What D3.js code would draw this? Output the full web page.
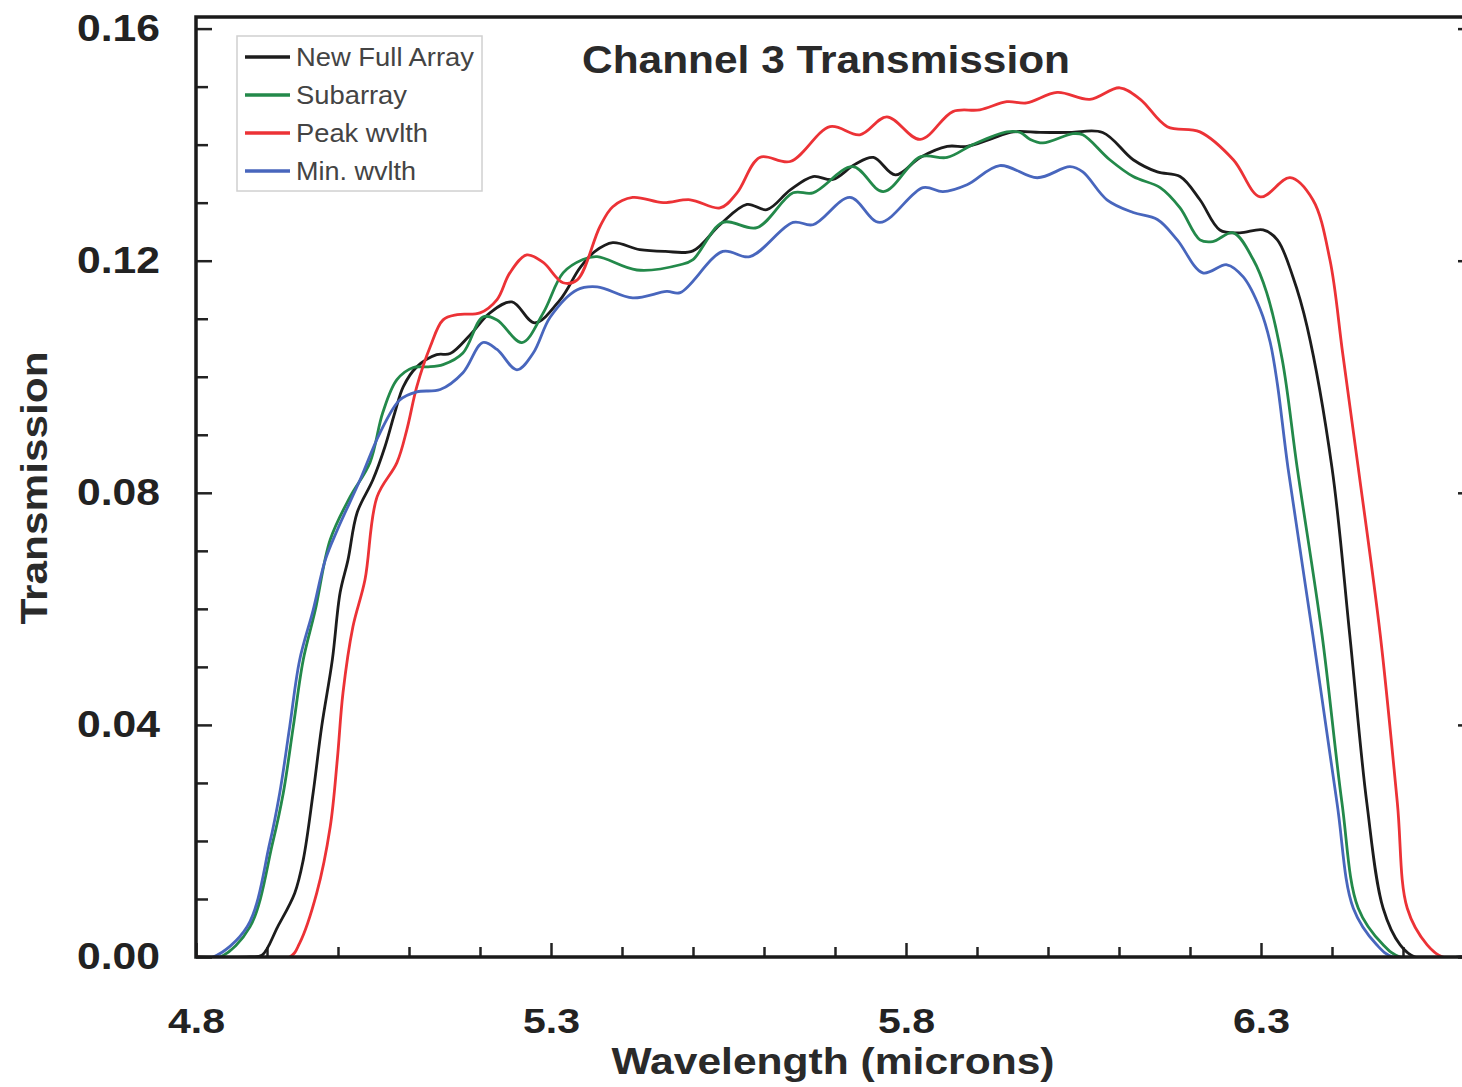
<!DOCTYPE html>
<html>
<head>
<meta charset="utf-8">
<script src="https://cdn.jsdelivr.net/npm/d3@7"></script>
<style>
body { margin: 0; background: #fff; }
text { font-family: "Liberation Sans", Arial, Helvetica, sans-serif; }
</style>
</head>
<body>
<div id="chart-area"></div>
<script>

// SVG Size
var width = 1462,
	height = 1087;

// Series names (legend order) and line colours
var seriesNames = ["New Full Array", "Subarray", "Peak wvlth", "Min. wvlth"];
var seriesColors = ["#1c1c1c", "#23894a", "#ec3236", "#4866bd"];

// [wavelength (microns), transmission]
var fullArray = [
	[4.800,0],[4.876,0],[4.893,0.0003],[4.915,0.0052],[4.939,0.0110],[4.951,0.0167],[4.965,0.0283],
	[4.977,0.0397],[4.992,0.0512],[5.003,0.0628],[5.014,0.0684],[5.027,0.0766],[5.049,0.0822],
	[5.066,0.0879],[5.080,0.0938],[5.092,0.0983],[5.111,0.1017],[5.139,0.1038],[5.158,0.1040],
	[5.186,0.1072],[5.214,0.1110],[5.245,0.1129],[5.277,0.1093],[5.313,0.1133],[5.341,0.1188],
	[5.362,0.1216],[5.387,0.1231],[5.425,0.1219],[5.461,0.1216],[5.500,0.1217],[5.538,0.1262],
	[5.576,0.1297],[5.604,0.1288],[5.637,0.1322],[5.669,0.1345],[5.697,0.1340],[5.728,0.1366],
	[5.754,0.1378],[5.785,0.1348],[5.820,0.1378],[5.858,0.1397],[5.886,0.1397],[5.918,0.1409],
	[5.951,0.1422],[5.989,0.1421],[6.031,0.1421],[6.077,0.1421],[6.120,0.1374],[6.154,0.1353],
	[6.186,0.1345],[6.214,0.1305],[6.242,0.1253],[6.270,0.1248],[6.303,0.1253],[6.323,0.1236],
	[6.345,0.1172],[6.365,0.1086],[6.400,0.0843],[6.425,0.0555],[6.449,0.0266],[6.472,0.0084],
	[6.496,0.0021],[6.517,0],[6.583,0]
];

var subarray = [
	[4.800,0],[4.834,0],[4.876,0.0052],[4.908,0.0197],[4.923,0.0283],[4.937,0.0397],[4.951,0.0512],
	[4.968,0.0598],[4.989,0.0719],[5.017,0.0793],[5.045,0.0852],[5.063,0.0938],[5.083,0.0995],
	[5.106,0.1016],[5.125,0.1017],[5.148,0.1021],[5.176,0.1041],[5.204,0.1103],[5.224,0.1098],
	[5.259,0.1059],[5.289,0.1110],[5.317,0.1179],[5.345,0.1202],[5.365,0.1207],[5.421,0.1184],
	[5.482,0.1193],[5.500,0.1202],[5.542,0.1266],[5.590,0.1257],[5.641,0.1317],[5.669,0.1317],
	[5.725,0.1362],[5.768,0.1319],[5.820,0.1379],[5.858,0.1378],[5.894,0.1400],[5.942,0.1422],
	[5.961,0.1421],[5.975,0.1409],[5.993,0.1403],[6.035,0.1419],[6.049,0.1417],[6.087,0.1374],
	[6.120,0.1345],[6.158,0.1326],[6.186,0.1291],[6.214,0.1236],[6.232,0.1233],[6.261,0.1248],
	[6.289,0.1202],[6.308,0.1145],[6.330,0.1029],[6.351,0.0843],[6.386,0.0555],[6.414,0.0266],
	[6.437,0.0084],[6.472,0.0021],[6.496,0],[6.583,0]
];

var peakWvlth = [
	[4.800,0],[4.932,0],[4.946,0.0024],[4.970,0.0110],[4.989,0.0224],[4.999,0.0340],[5.007,0.0455],
	[5.021,0.0569],[5.038,0.0650],[5.055,0.0793],[5.083,0.0852],[5.097,0.0909],[5.111,0.0983],
	[5.130,0.1052],[5.148,0.1098],[5.168,0.1107],[5.200,0.1110],[5.224,0.1133],[5.242,0.1179],
	[5.266,0.1210],[5.289,0.1197],[5.317,0.1162],[5.337,0.1167],[5.369,0.1259],[5.387,0.1293],
	[5.415,0.1309],[5.458,0.1300],[5.496,0.1305],[5.538,0.1291],[5.562,0.1317],[5.594,0.1378],
	[5.637,0.1371],[5.693,0.1431],[5.735,0.1417],[5.773,0.1448],[5.820,0.1409],[5.866,0.1457],
	[5.904,0.1460],[5.942,0.1474],[5.970,0.1472],[6.013,0.1490],[6.059,0.1478],[6.101,0.1498],
	[6.130,0.1478],[6.168,0.1431],[6.214,0.1422],[6.261,0.1374],[6.299,0.1310],[6.341,0.1343],
	[6.373,0.1305],[6.397,0.1202],[6.415,0.1041],[6.437,0.0843],[6.468,0.0555],[6.492,0.0266],
	[6.506,0.0084],[6.534,0.0021],[6.556,0],[6.583,0]
];

var minWvlth = [
	[4.800,0],[4.824,0],[4.872,0.0052],[4.904,0.0197],[4.918,0.0283],[4.932,0.0397],[4.946,0.0512],
	[4.965,0.0598],[4.982,0.0684],[4.999,0.0736],[5.031,0.0822],[5.059,0.0903],[5.087,0.0960],
	[5.111,0.0974],[5.144,0.0978],[5.176,0.1007],[5.204,0.1059],[5.224,0.1047],[5.252,0.1012],
	[5.275,0.1041],[5.299,0.1103],[5.337,0.1150],[5.365,0.1155],[5.415,0.1136],[5.463,0.1147],
	[5.482,0.1145],[5.542,0.1216],[5.580,0.1207],[5.641,0.1266],[5.669,0.1262],[5.721,0.1309],
	[5.763,0.1266],[5.824,0.1326],[5.852,0.1319],[5.886,0.1331],[5.932,0.1364],[5.985,0.1343],
	[6.031,0.1362],[6.049,0.1353],[6.083,0.1305],[6.120,0.1283],[6.154,0.1271],[6.182,0.1236],
	[6.218,0.1179],[6.252,0.1193],[6.275,0.1172],[6.299,0.1116],[6.313,0.1059],[6.323,0.0988],
	[6.338,0.0843],[6.373,0.0555],[6.407,0.0266],[6.430,0.0084],[6.463,0.0021],[6.486,0],[6.583,0]
];

// Ticks
var xTickValues = [4.8, 5.3, 5.8, 6.3];
var xTickLabels = ["4.8", "5.3", "5.8", "6.3"];
var xMinorTicks = [4.9, 5.0, 5.1, 5.2, 5.4, 5.5, 5.6, 5.7, 5.9, 6.0, 6.1, 6.2, 6.4, 6.5];
var yTickValues = [0, 0.04, 0.08, 0.12, 0.16];
var yTickLabels = ["0.00", "0.04", "0.08", "0.12", "0.16"];
var yMinorTicks = [0.01, 0.02, 0.03, 0.05, 0.06, 0.07, 0.09, 0.10, 0.11, 0.13, 0.14, 0.15];

var allSeries = [fullArray, subarray, peakWvlth, minWvlth];

// plot frame runs a little past the right edge of the window, like the original
// (note: "top" is taken by window.top, so use other names)
var plotLeft = 196, plotRight = 1474, plotTop = 17, plotBottom = 957;

var svg = d3.select("#chart-area").append("svg")
	.attr("width", width)
	.attr("height", height);

var x = d3.scaleLinear().domain([4.8, 6.6]).range([plotLeft, plotRight]);
var y = d3.scaleLinear().domain([0, 0.162]).range([plotBottom, plotTop]);

// clip so the smoothed curves never dip under the x axis
svg.append("clipPath")
	.attr("id", "plot-clip")
	.append("rect")
	.attr("x", plotLeft)
	.attr("y", plotTop)
	.attr("width", plotRight - plotLeft)
	.attr("height", plotBottom - plotTop);

// minor ticks (inward)
svg.append("g")
	.attr("transform", "translate(" + plotLeft + ",0)")
	.call(d3.axisLeft(y).tickValues(yMinorTicks).tickSize(-12).tickFormat(""));
svg.append("g")
	.attr("transform", "translate(" + plotRight + ",0)")
	.call(d3.axisRight(y).tickValues(yMinorTicks).tickSize(-12).tickFormat(""));
svg.append("g")
	.attr("transform", "translate(0," + plotBottom + ")")
	.call(d3.axisBottom(x).tickValues(xMinorTicks).tickSize(-10).tickFormat(""));

// major ticks with labels
var yAxis = svg.append("g")
	.attr("class", "yAxis")
	.attr("transform", "translate(" + plotLeft + ",0)")
	.call(d3.axisLeft(y).tickValues(yTickValues).tickSize(-16).tickPadding(36)
		.tickFormat(function(d, i) { return yTickLabels[i]; }));
svg.append("g")
	.attr("transform", "translate(" + plotRight + ",0)")
	.call(d3.axisRight(y).tickValues(yTickValues).tickSize(-16).tickFormat(""));
var xAxis = svg.append("g")
	.attr("class", "xAxis")
	.attr("transform", "translate(0," + plotBottom + ")")
	.call(d3.axisBottom(x).tickValues(xTickValues).tickSize(-14).tickPadding(51)
		.tickFormat(function(d, i) { return xTickLabels[i]; }));

svg.selectAll(".domain").remove();
svg.selectAll(".tick line").attr("stroke", "#222").attr("stroke-width", 2.5);

yAxis.selectAll("text")
	.attr("font-size", 36).attr("font-weight", "bold").attr("fill", "#222")
	.attr("font-family", "Liberation Sans, Arial, sans-serif")
	.attr("textLength", 83).attr("lengthAdjust", "spacingAndGlyphs");
xAxis.selectAll("text")
	.attr("font-size", 35).attr("font-weight", "bold").attr("fill", "#222")
	.attr("font-family", "Liberation Sans, Arial, sans-serif")
	.attr("textLength", 57).attr("lengthAdjust", "spacingAndGlyphs");

// curves
var line = d3.line()
	.x(function(d) { return x(d[0]); })
	.y(function(d) { return y(d[1]); })
	.curve(d3.curveCatmullRom.alpha(0.5));

svg.append("g")
	.attr("clip-path", "url(#plot-clip)")
	.selectAll(".curve")
	.data(allSeries)
	.enter()
	.append("path")
	.attr("class", "curve")
	.attr("fill", "none")
	.attr("stroke", function(d, i) { return seriesColors[i]; })
	.attr("stroke-width", 2.8)
	.attr("stroke-linejoin", "round")
	.attr("d", line);

// frame
svg.append("rect")
	.attr("x", plotLeft)
	.attr("y", plotTop)
	.attr("width", plotRight - plotLeft)
	.attr("height", plotBottom - plotTop)
	.attr("fill", "none")
	.attr("stroke", "#1a1a1a")
	.attr("stroke-width", 3.5);

// legend
var legend = svg.append("g").attr("class", "legend");
legend.append("rect")
	.attr("x", 237).attr("y", 36)
	.attr("width", 245).attr("height", 155)
	.attr("fill", "#fff")
	.attr("stroke", "#d0d0d0")
	.attr("stroke-width", 1.5);

var legendWidths = [178, 111, 132, 120];
var rows = legend.selectAll(".row")
	.data(seriesNames)
	.enter()
	.append("g")
	.attr("class", "row")
	.attr("transform", function(d, i) { return "translate(0," + (57 + i * 38) + ")"; });
rows.append("line")
	.attr("x1", 245).attr("x2", 290)
	.attr("stroke", function(d, i) { return seriesColors[i]; })
	.attr("stroke-width", 3.5);
rows.append("text")
	.attr("x", 296).attr("y", 9)
	.attr("font-size", 26)
	.attr("fill", "#444")
	.attr("textLength", function(d, i) { return legendWidths[i]; })
	.attr("lengthAdjust", "spacingAndGlyphs")
	.text(function(d) { return d; });

// title and axis labels
svg.append("text")
	.attr("x", 826).attr("y", 73)
	.attr("text-anchor", "middle")
	.attr("font-size", 39).attr("font-weight", "bold").attr("fill", "#2a2a2a")
	.attr("textLength", 488).attr("lengthAdjust", "spacingAndGlyphs")
	.text("Channel 3 Transmission");

svg.append("text")
	.attr("x", 833).attr("y", 1074)
	.attr("text-anchor", "middle")
	.attr("font-size", 37).attr("font-weight", "bold").attr("fill", "#2a2a2a")
	.attr("textLength", 443).attr("lengthAdjust", "spacingAndGlyphs")
	.text("Wavelength (microns)");

svg.append("text")
	.attr("transform", "translate(47,488) rotate(-90)")
	.attr("text-anchor", "middle")
	.attr("font-size", 37).attr("font-weight", "bold").attr("fill", "#2a2a2a")
	.attr("textLength", 273).attr("lengthAdjust", "spacingAndGlyphs")
	.text("Transmission");

</script>
</body>
</html>
